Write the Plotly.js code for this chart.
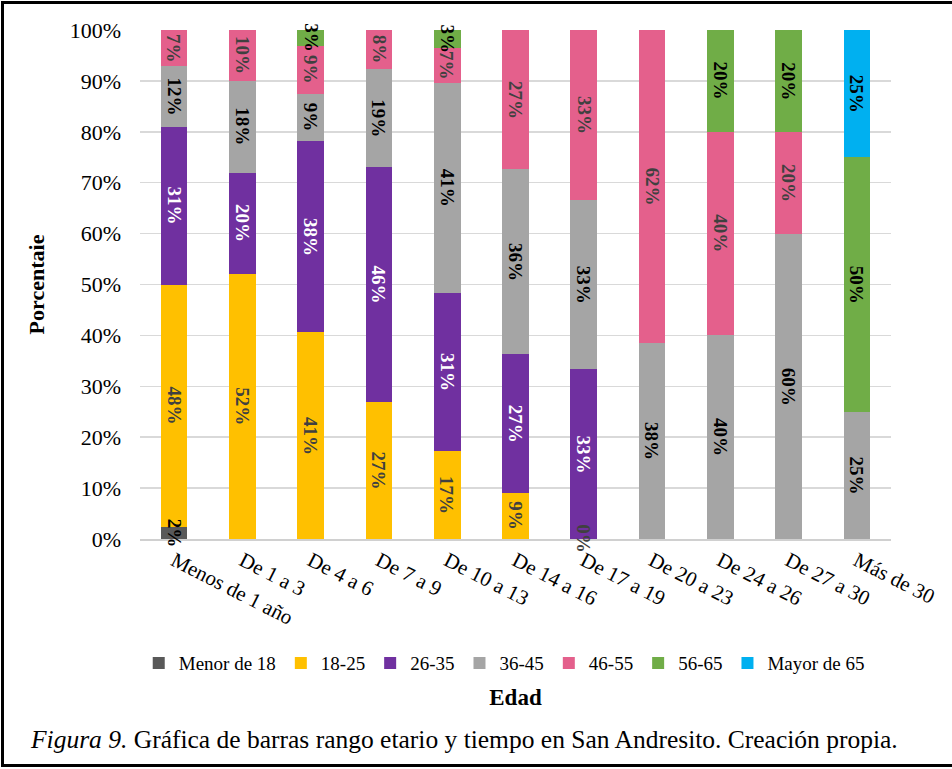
<!DOCTYPE html>
<html>
<head>
<meta charset="utf-8">
<script src="https://cdn.plot.ly/plotly-3.0.1.min.js"></script>
<style>
  html, body { margin: 0; padding: 0; background: #fff; }
  #wrap { position: relative; width: 952px; height: 769px; overflow: hidden; }
  #chart { position: absolute; left: 0; top: 0; width: 952px; height: 769px; }
  .bd { position: absolute; background: #000; }
</style>
</head>
<body>
<div id="wrap">
  <div id="chart"></div>
  <div class="bd" style="left:1px;top:1px;width:951px;height:3px;"></div>
  <div class="bd" style="left:1px;top:1px;width:3px;height:766px;"></div>
  <div class="bd" style="left:1px;top:764px;width:951px;height:3px;"></div>
</div>
<script>
// Categories (Edad = tiempo en San Andresito)
const categories = ["Menos de 1 año", "De 1 a 3", "De 4 a 6", "De 7 a 9", "De 10 a 13",
  "De 14 a 16", "De 17 a 19", "De 20 a 23", "De 24 a 26", "De 27 a 30", "Más de 30"];

// Percent of each age range within each category (null = not present)
const menor18   = [2.38, null, null, null, null, null, null, null, null, null, null];
const r18_25    = [47.62, 52, 40.63, 26.92, 17.24, 9.09, 0, null, null, null, null];
const r26_35    = [30.95, 20, 37.5, 46.15, 31.03, 27.27, 33.33, null, null, null, null];
const r36_45    = [11.9, 18, 9.38, 19.23, 41.38, 36.36, 33.33, 38.46, 40, 60, 25];
const r46_55    = [7.14, 10, 9.38, 7.69, 6.9, 27.27, 33.33, 61.54, 40, 20, null];
const r56_65    = [null, null, 3.13, null, 3.45, null, null, null, 20, 20, 50];
const mayor65   = [null, null, null, null, null, null, null, null, null, null, 25];

const seriesNames = ["Menor de 18", "18-25", "26-35", "36-45", "46-55", "56-65", "Mayor de 65"];
const seriesData  = [menor18, r18_25, r26_35, r36_45, r46_55, r56_65, mayor65];
const seriesColors = ["#595959", "#FFC000", "#7030A0", "#A5A5A5", "#E4608C", "#70AD47", "#00B0F0"];
const textColors   = ["#000000", "#404040", "#FFFFFF", "#000000", "#404040", "#000000", "#000000"];

const serif = "Liberation Serif, Times New Roman, serif";

const traces = seriesData.map((vals, i) => ({
  type: "bar",
  name: seriesNames[i],
  x: categories,
  y: vals,
  marker: { color: seriesColors[i], line: { width: 0 } },
  hoverinfo: "name+y"
}));

// data labels: centred in each stacked segment, rotated like the reference
const annotations = [];
categories.forEach((cat, j) => {
  let base = 0;
  seriesData.forEach((vals, i) => {
    const v = vals[j];
    if (v === null) return;
    annotations.push({
      x: cat, y: base + v / 2, xref: "x", yref: "y",
      text: Math.round(v) + "%", showarrow: false, textangle: 90,
      font: { family: serif, size: 19, color: textColors[i], weight: "bold" }
    });
    base += v;
  });
});

annotations.push({
  xref: "paper", yref: "paper",
  x: -0.149, y: -0.394, xanchor: "left", yanchor: "middle",
  text: "<i>Figura 9.</i> Gráfica de barras rango etario y tiempo en San Andresito. Creación propia.",
  showarrow: false,
  font: { family: serif, size: 25.5, color: "#000" }
});

const layout = {
  width: 952, height: 769,
  margin: { l: 140, r: 61, t: 30, b: 230 },
  paper_bgcolor: "rgba(0,0,0,0)",
  plot_bgcolor: "#fff",
  barmode: "stack",
  bargap: 0.61,
  showlegend: true,
  legend: {
    orientation: "h", x: 0.485, xanchor: "center", y: -0.244, yanchor: "middle",
    font: { family: serif, size: 19, color: "#000" },
    traceorder: "normal", itemwidth: 30
  },
  xaxis: {
    type: "category",
    tickangle: 27,
    tickfont: { family: serif, size: 21, color: "#000" },
    showline: true, linecolor: "#d0d0d0", linewidth: 1.5,
    ticks: "", showgrid: false,
    title: { text: "<b>Edad</b>", font: { family: serif, size: 23, color: "#000" }, standoff: 60 }
  },
  yaxis: {
    range: [0, 100], dtick: 10, ticksuffix: "%",
    tickfont: { family: serif, size: 22, color: "#000" },
    showgrid: true, gridcolor: "#d9d9d9", gridwidth: 1.5,
    zeroline: false, showline: false, ticks: "",
    ticklabelstandoff: 18,
    title: { text: "<b>Porcentaie</b>", font: { family: serif, size: 22, color: "#000" }, standoff: 18 }
  },
  annotations: annotations
};

Plotly.newPlot("chart", traces, layout, { displayModeBar: false, staticPlot: true });
</script>
</body>
</html>
